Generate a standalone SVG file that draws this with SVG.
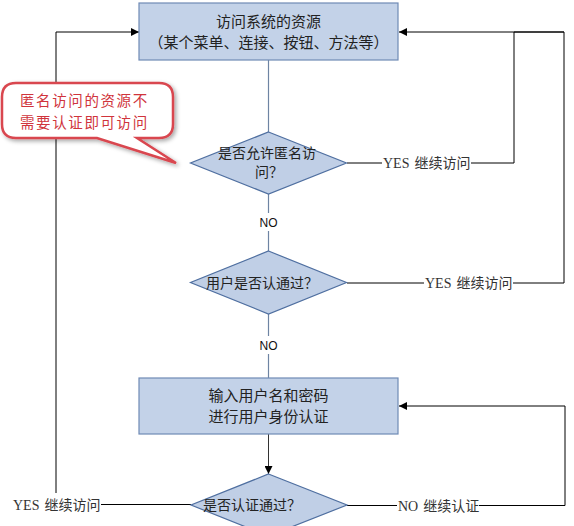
<svg xmlns="http://www.w3.org/2000/svg" width="574" height="526" viewBox="0 0 574 526">
<style>
.box{fill:#c3d2e8;stroke:#6f8ab5;stroke-width:1.2}
.dia{fill:#c0cfe6;stroke:#4f6fa0;stroke-width:1.2}
.t{font-family:"Noto Sans CJK SC",sans-serif;font-size:15px;fill:#222}
.td{font-family:"Noto Sans CJK SC",sans-serif;font-size:14px;fill:#222}
.lab{font-family:"Liberation Serif","Noto Sans CJK SC",serif;font-size:14px;fill:#333}
.no{font-family:"Liberation Sans",Arial,sans-serif;font-size:12px;fill:#111}
.ln{fill:none;stroke:#000;stroke-width:1}
.lg{fill:none;stroke:#6e84a3;stroke-width:1.2}
.call{fill:#fff;stroke:#d9464f;stroke-width:2.5}
.ct{font-family:"Noto Sans CJK SC",sans-serif;font-size:14.5px;letter-spacing:1.6px;fill:#d0343c}
</style>
<defs>
<marker id="arr" viewBox="0 0 10 10" refX="10" refY="5" markerWidth="8" markerHeight="8" markerUnits="userSpaceOnUse" orient="auto">
<path d="M0,0 L10,5 L0,10 Z" fill="#000"/>
</marker>
<filter id="sh" x="-10%" y="-10%" width="130%" height="140%">
<feDropShadow dx="2" dy="2" stdDeviation="2" flood-color="#000" flood-opacity="0.35"/>
</filter>
</defs>
<g id="connectors">
<line class="lg" x1="268.5" y1="60" x2="268.5" y2="132"/>
<line class="lg" x1="268.5" y1="194" x2="268.5" y2="213"/>
<line class="lg" x1="268.5" y1="231" x2="268.5" y2="251"/>
<line class="lg" x1="268.5" y1="314" x2="268.5" y2="336"/>
<line class="lg" x1="268.5" y1="354" x2="268.5" y2="378"/>
<text class="no" x="268.5" y="226.5" text-anchor="middle">NO</text>
<text class="no" x="268.5" y="349.5" text-anchor="middle">NO</text>
<polyline class="ln" points="347,163 382,163"/>
<polyline class="ln" points="471,163 514,163 514,32 564,32"/>
<text class="lab" x="383" y="168">YES<tspan dx="5">继续访问</tspan></text>
<polyline class="ln" points="347,283 424,283"/>
<polyline class="ln" points="513,283 564,283 564,32 399,32" marker-end="url(#arr)"/>
<text class="lab" x="425" y="288">YES<tspan dx="5">继续访问</tspan></text>
<line class="ln" x1="268.5" y1="434" x2="268.5" y2="474" marker-end="url(#arr)" style="stroke:#333"/>
<polyline class="ln" points="347,505.5 397,505.5"/>
<polyline class="ln" points="479,505.5 565,505.5 565,406 399,406" marker-end="url(#arr)"/>
<text class="lab" x="398" y="510.5">NO<tspan dx="5">继续认证</tspan></text>
<polyline class="ln" points="191,504.5 101,504.5"/>
<polyline class="ln" points="56,493 56,32 139,32" marker-end="url(#arr)"/>
<text class="lab" x="13" y="509.5">YES<tspan dx="5">继续访问</tspan></text>
</g>
<g id="resource">
<rect class="box" x="139" y="3" width="259" height="57"/>
<text class="t" x="268.5" y="26.5" text-anchor="middle">访问系统的资源</text>
<text class="t" x="268.5" y="47.5" text-anchor="middle">（某个菜单、连接、按钮、方法等）</text>
</g>
<g id="anonymous">
<polygon class="dia" points="268.5,132 346.5,163 268.5,194 190.5,163"/>
<text class="td" x="218" y="158">是否允许匿名访</text>
<text class="td" x="255" y="177">问？</text>
</g>
<g id="authenticated">
<polygon class="dia" points="268.5,251 346.5,282.5 268.5,314 190.5,282.5"/>
<text class="td" x="206" y="287.5">用户是否认通过？</text>
</g>
<g id="login">
<rect class="box" x="139" y="378" width="259" height="56"/>
<text class="t" x="268.5" y="400.5" text-anchor="middle">输入用户名和密码</text>
<text class="t" x="268.5" y="422" text-anchor="middle">进行用户身份认证</text>
</g>
<g id="passed">
<polygon class="dia" points="268.5,474 347,505 268.5,536 191,505"/>
<text class="td" x="203" y="510">是否认证通过？</text>
</g>
<g id="callout">
<path class="call" filter="url(#sh)" d="M16,83 H159 Q173,83 173,97 V124 Q173,138 159,138 H137 L176,163 L97,138 H16 Q2,138 2,124 V97 Q2,83 16,83 Z"/>
<text class="ct" x="20" y="106">匿名访问的资源不</text>
<text class="ct" x="20" y="127.5">需要认证即可访问</text>
</g>
</svg>
